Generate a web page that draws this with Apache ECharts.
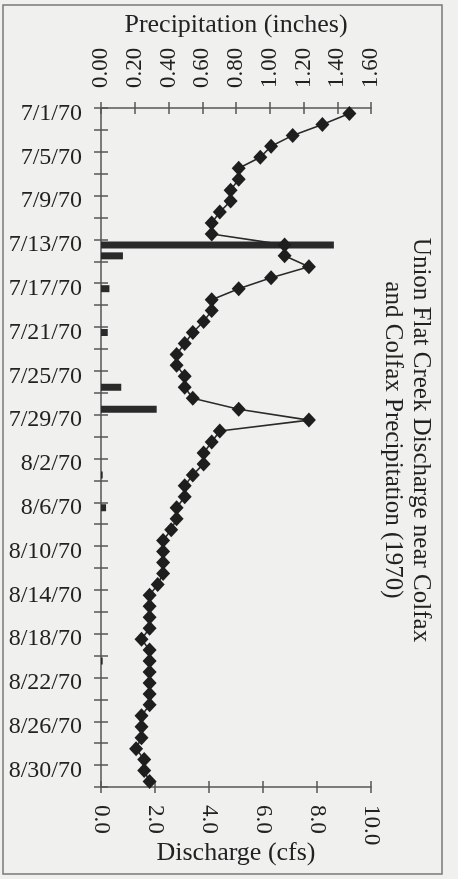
<!DOCTYPE html>
<html>
<head>
<meta charset="utf-8">
<script src="https://cdn.jsdelivr.net/npm/echarts@6/dist/echarts.min.js"></script>
<style>
html,body{margin:0;padding:0;background:#f0f0ee;}
#chart{width:458px;height:879px;}
</style>
</head>
<body>
<div id="chart"></div>
<script>
// Dates (category axis), one per day
var dates = [
 "7/1/70","7/2/70","7/3/70","7/4/70","7/5/70","7/6/70","7/7/70","7/8/70","7/9/70","7/10/70",
 "7/11/70","7/12/70","7/13/70","7/14/70","7/15/70","7/16/70","7/17/70","7/18/70","7/19/70","7/20/70",
 "7/21/70","7/22/70","7/23/70","7/24/70","7/25/70","7/26/70","7/27/70","7/28/70","7/29/70","7/30/70",
 "7/31/70","8/1/70","8/2/70","8/3/70","8/4/70","8/5/70","8/6/70","8/7/70","8/8/70","8/9/70",
 "8/10/70","8/11/70","8/12/70","8/13/70","8/14/70","8/15/70","8/16/70","8/17/70","8/18/70","8/19/70",
 "8/20/70","8/21/70","8/22/70","8/23/70","8/24/70","8/25/70","8/26/70","8/27/70","8/28/70","8/29/70",
 "8/30/70","8/31/70"
];
// Discharge (cfs)
var discharge = [
 9.2,8.2,7.1,6.3,5.9,5.1,5.1,4.8,4.8,4.4,
 4.1,4.1,6.8,6.8,7.7,6.3,5.1,4.1,4.1,3.8,
 3.4,3.1,2.8,2.8,3.1,3.1,3.4,5.1,7.7,4.4,
 4.1,3.8,3.8,3.4,3.1,3.1,2.8,2.8,2.6,2.3,
 2.3,2.3,2.3,2.1,1.8,1.8,1.8,1.8,1.5,1.8,
 1.8,1.8,1.8,1.8,1.8,1.5,1.5,1.5,1.3,1.6,
 1.6,1.8
];
// Precipitation (inches)
var precipitation = [
 0,0,0,0,0,0,0,0,0,0,
 0,0,1.38,0.13,0,0,0.05,0,0,0,
 0.04,0,0,0,0,0.12,0,0.33,0,0,
 0,0,0,0.01,0,0,0.03,0,0,0,
 0,0,0,0,0,0,0,0,0,0,
 0.01,0,0,0,0,0,0,0,0,0,
 0,0
];
var precipTicks = {min:0, max:1.6, interval:0.2};
var dischargeTicks = {min:0, max:10, interval:2};
var titleLines = ["Union Flat Creek Discharge near Colfax", "and Colfax Precipitation (1970)"];

var FONT = "'Liberation Serif','Times New Roman',serif";
var INK = '#222';
var AXC = '#555';

function valueAxis(pos, t, showLabels, inside, digits, name, nameGap, margin) {
  return {
    type:'value', position:pos, min:t.min, max:t.max, interval:t.interval,
    name: showLabels ? name : '', nameLocation:'middle', nameGap:nameGap, nameMoveOverlap:false,
    nameTextStyle:{fontFamily:FONT, fontSize:26, color:INK},
    axisLine:{show:showLabels, lineStyle:{color:AXC, width:1.5}},
    axisTick:{show:true, inside:inside, length:6, lineStyle:{color:AXC, width:1.5}},
    axisLabel:{show:showLabels, rotate:-90, margin:margin, fontFamily:FONT, fontSize:23, color:INK,
      formatter:function(v){return v.toFixed(digits);}},
    splitLine:{show:false}
  };
}
function catAxis(showLabels, inside) {
  return {
    type:'category', inverse:true, data:dates, position:'left', boundaryGap:true,
    axisLine:{show:showLabels, lineStyle:{color:AXC, width:1.5}},
    axisTick:{show:true, inside:inside, interval:1, length:7, lineStyle:{color:AXC, width:1.5}},
    axisLabel:{show:showLabels, interval:3, margin:19, fontFamily:FONT, fontSize:24, color:INK},
    splitLine:{show:false}
  };
}

var chart = echarts.init(document.getElementById('chart'), null, {renderer:'canvas'});
chart.setOption({
  backgroundColor:'#f0f0ee',
  animation:false,
  grid:{left:101, right:87, top:108, bottom:92, containLabel:false, outerBoundsMode:'none'},
  xAxis:[
    valueAxis('top', precipTicks, true, false, 2, 'Precipitation (inches)', 70, 20),
    valueAxis('top', precipTicks, false, true, 2, '', 0, 20),
    valueAxis('bottom', dischargeTicks, true, false, 1, 'Discharge (cfs)', 53, 18),
    valueAxis('bottom', dischargeTicks, false, true, 1, '', 0, 18)
  ],
  yAxis:[ catAxis(true, false), catAxis(false, true) ],
  series:[
    {type:'bar', name:'Precipitation', xAxisIndex:0, yAxisIndex:0, data:precipitation,
     barWidth:7, itemStyle:{color:'#2a2a2a'}},
    {type:'line', name:'Discharge', xAxisIndex:2, yAxisIndex:0, data:discharge,
     symbol:'diamond', symbolSize:[14,15], showSymbol:true, showAllSymbol:true,
     lineStyle:{color:'#2a2a2a', width:1.6}, itemStyle:{color:'#1e1e1e'}, z:3}
  ],
  graphic:[
    {type:'rect', shape:{x:3, y:5, width:439, height:869},
     style:{fill:null, stroke:'#777', lineWidth:1.5}, silent:true},
    {type:'text', x:407, y:440, rotation:-Math.PI/2,
     style:{text:titleLines.join('\n'), align:'center', verticalAlign:'middle',
            font:"25px " + FONT, fill:INK, lineHeight:28}}
  ]
});
</script>
</body>
</html>
